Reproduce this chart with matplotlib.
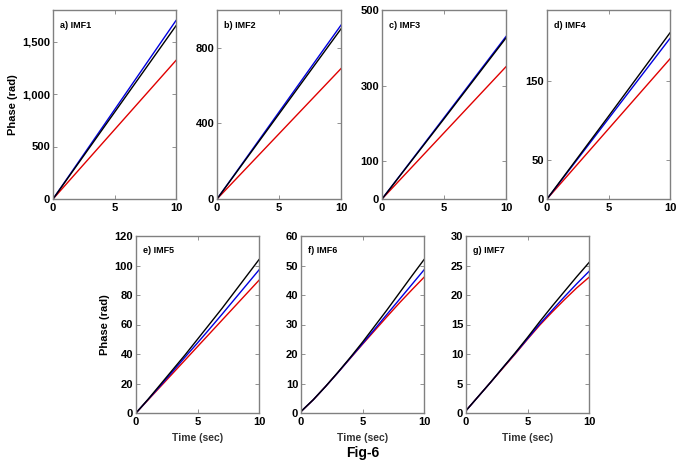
import matplotlib
matplotlib.use("Agg")
import matplotlib.pyplot as plt

plt.rcParams['font.family'] = ['Liberation Sans', 'DejaVu Sans']
plt.rcParams['font.weight'] = 'bold'

# time samples (sec)
t_lin = [0, 5, 10]
t = [0, 1, 2, 3, 4, 5, 6, 7, 8, 9, 10]

# top row (nearly linear phase)
imf1_black = [0, 825, 1650]
imf1_blue = [0, 850, 1700]
imf1_red = [0, 660, 1320]

imf2_black = [0, 450, 900]
imf2_blue = [0, 460, 920]
imf2_red = [0, 345, 690]

imf3_black = [0, 212, 426]
imf3_blue = [0, 215, 430]
imf3_red = [0, 175, 350]

imf4_black = [0, 105, 211]
imf4_blue = [0, 102, 204]
imf4_red = [0, 89, 178]

# bottom row
imf5_black = [0, 9.5, 19.5, 29.5, 39.5, 50, 60.5, 71, 82, 93, 104]
imf5_blue = [0, 9.3, 18.7, 28.3, 38, 47.5, 57.2, 67, 77, 87, 97]
imf5_red = [0, 9, 18, 27, 36, 45, 54, 63, 72, 81, 90]

imf6_black = [0.5, 4.5, 9, 13.8, 18.8, 24, 29.5, 35, 40.7, 46.4, 52]
imf6_blue = [0.5, 4.5, 9, 13.7, 18.6, 23.5, 28.5, 33.5, 38.5, 43.5, 48.5]
imf6_red = [0.5, 4.5, 9, 13.7, 18.5, 23.3, 28, 32.7, 37.3, 41.7, 46]

imf7_black = [0.4, 2.8, 5.2, 7.7, 10.2, 12.8, 15.5, 18.1, 20.6, 23.1, 25.5]
imf7_blue = [0.4, 2.8, 5.2, 7.7, 10.1, 12.6, 15.1, 17.4, 19.7, 21.9, 24]
imf7_red = [0.4, 2.8, 5.2, 7.6, 10.0, 12.5, 14.9, 17.1, 19.2, 21.2, 23]

panels = [
    # label, x, black, blue, red, ylim top, yticks, yticklabels, pixel box (l, r, top, bottom)
    ('a) IMF1', t_lin, imf1_black, imf1_blue, imf1_red, 1800, [0, 500, 1000, 1500],
     ['0', '500', '1,000', '1,500'], (53, 176, 10, 199)),
    ('b) IMF2', t_lin, imf2_black, imf2_blue, imf2_red, 1000, [0, 400, 800],
     None, (217, 341, 10, 199)),
    ('c) IMF3', t_lin, imf3_black, imf3_blue, imf3_red, 500, [0, 100, 300, 500],
     None, (382, 506, 10, 199)),
    ('d) IMF4', t_lin, imf4_black, imf4_blue, imf4_red, 240, [0, 50, 150],
     None, (547, 670, 10, 199)),
    ('e) IMF5', t, imf5_black, imf5_blue, imf5_red, 120, [0, 20, 40, 60, 80, 100, 120],
     None, (136, 259, 236, 413)),
    ('f) IMF6', t, imf6_black, imf6_blue, imf6_red, 60, [0, 10, 20, 30, 40, 50, 60],
     None, (301, 424, 236, 413)),
    ('g) IMF7', t, imf7_black, imf7_blue, imf7_red, 30, [0, 5, 10, 15, 20, 25, 30],
     None, (466, 589, 236, 413)),
]

W, H = 683, 472
fig = plt.figure(figsize=(W / 100, H / 100), dpi=100)

for i, (label, x, blk, blu, red, ytop, yt, ytl, box) in enumerate(panels):
    l, r, top, bot = box
    ax = fig.add_axes([l / W, 1 - bot / H, (r - l) / W, (bot - top) / H])
    ax.plot(x, red, color='#e00000', lw=1)
    ax.plot(x, blu, color='#0000e0', lw=1)
    ax.plot(x, blk, color='black', lw=1)
    ax.set_xlim(0, 10)
    ax.set_ylim(0, ytop)
    ax.set_xticks([0, 5, 10])
    ax.set_yticks(yt)
    if ytl is not None:
        ax.set_yticklabels(ytl)
    ax.tick_params(direction='in', length=3, width=0.6, top=True, right=True,
                   labelsize=8, pad=2, colors='#808080', labelcolor='black')
    ax.tick_params(axis='x', pad=3)
    for sp in ax.spines.values():
        sp.set_color('#808080')
        sp.set_linewidth(1)
    for lab in ax.get_xticklabels() + ax.get_yticklabels():
        lab.set_fontweight('bold')
    ax.text(0.06, 0.92, label, transform=ax.transAxes, fontsize=6.5,
            fontweight='bold', va='center', ha='left')
    if i in (0, 4):
        ax.set_ylabel('Phase (rad)', fontsize=8, fontweight='bold', labelpad=3)
    if i >= 4:
        ax.set_xlabel('Time (sec)', fontsize=7.5, fontweight='bold', labelpad=4,
                      color='#333333')

fig.text(363 / W, 1 - 453 / H, 'Fig-6', fontsize=10, fontweight='bold',
         ha='center', va='center')

fig.savefig('out.png', dpi=100)
